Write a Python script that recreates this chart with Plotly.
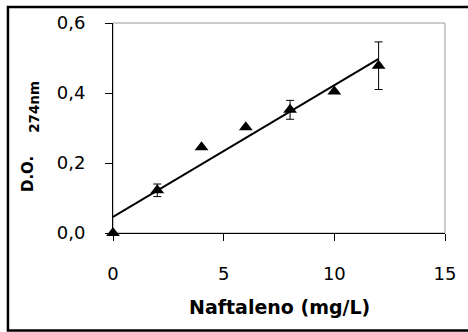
import numpy as np
import plotly.graph_objects as go

# Data
naftaleno = [0, 2, 4, 6, 8, 10, 12]
do_274 = [0.0, 0.122, 0.245, 0.302, 0.352, 0.404, 0.478]
err = [0.0, 0.018, 0.0, 0.0, 0.027, 0.0, 0.068]
x_ticks = [0, 5, 10, 15]
y_ticks = [0.0, 0.2, 0.4, 0.6]
y_ticklabels = ["0,0", "0,2", "0,4", "0,6"]

# Linear trend line from the data
slope, intercept = np.polyfit(naftaleno, do_274, 1)
fit_x = [naftaleno[0], naftaleno[-1]]
fit_y = [intercept + slope * v for v in fit_x]

FONT = "DejaVu Sans"

fig = go.Figure()
fig.add_trace(go.Scatter(
    x=fit_x, y=fit_y, mode="lines",
    line=dict(color="black", width=2), showlegend=False, hoverinfo="skip",
))
fig.add_trace(go.Scatter(
    x=naftaleno, y=do_274, mode="markers",
    marker=dict(symbol="triangle-up", size=12, color="black"),
    error_y=dict(type="data", array=err, visible=True, color="black",
                 thickness=1, width=4),
    showlegend=False, cliponaxis=False,
))

L, R, T, B = 113, 20, 22, 99
W, H = 468, 332
pw = W - L - R
ph = H - T - B


def px_x(p):
    return (p - L) / pw


def px_y(p):
    return (H - B - p) / ph


fig.update_layout(
    width=W, height=H,
    margin=dict(l=L, r=R, t=T, b=B, pad=0),
    paper_bgcolor="white", plot_bgcolor="white",
    font=dict(family=FONT, size=18, color="black"),
    xaxis=dict(range=[0, 15], tickvals=x_ticks, ticks="outside", ticklen=7,
               tickcolor="black", showgrid=False, zeroline=False,
               showline=True, linecolor="black", linewidth=1,
               ticklabelstandoff=17, tickfont=dict(size=18)),
    yaxis=dict(range=[0, 0.6], tickvals=y_ticks, ticktext=y_ticklabels,
               ticks="outside", ticklen=7, tickcolor="black",
               showgrid=False, zeroline=False, showline=True,
               linecolor="black", linewidth=1,
               ticklabelstandoff=16, tickfont=dict(size=18)),
    shapes=[
        dict(type="rect", xref="paper", yref="paper", x0=0, y0=0, x1=1, y1=1,
             line=dict(color="#9a9a9a", width=1), layer="below"),
        dict(type="rect", xref="paper", yref="paper",
             x0=px_x(7), x1=px_x(W + 5),
             y0=px_y(331), y1=px_y(6),
             line=dict(color="black", width=2.5), layer="below"),
    ],
    annotations=[
        dict(text="<b>Naftaleno (mg/L)</b>", xref="paper", yref="paper",
             x=0.5, y=px_y(307), showarrow=False,
             xanchor="center", yanchor="middle", font=dict(size=19)),
        dict(text="<b>D.O.</b>", xref="paper", yref="paper",
             x=px_x(27.5), y=px_y(173.5), showarrow=False,
             textangle=-90, xanchor="center", yanchor="middle",
             font=dict(size=15)),
        dict(text="<b>274nm</b>", xref="paper", yref="paper",
             x=px_x(33), y=px_y(106.5), showarrow=False,
             textangle=-90, xanchor="center", yanchor="middle",
             font=dict(size=13.5)),
    ],
)

fig.write_html("out.html", config={"displayModeBar": False},
               post_script="document.body.style.margin='0';")
